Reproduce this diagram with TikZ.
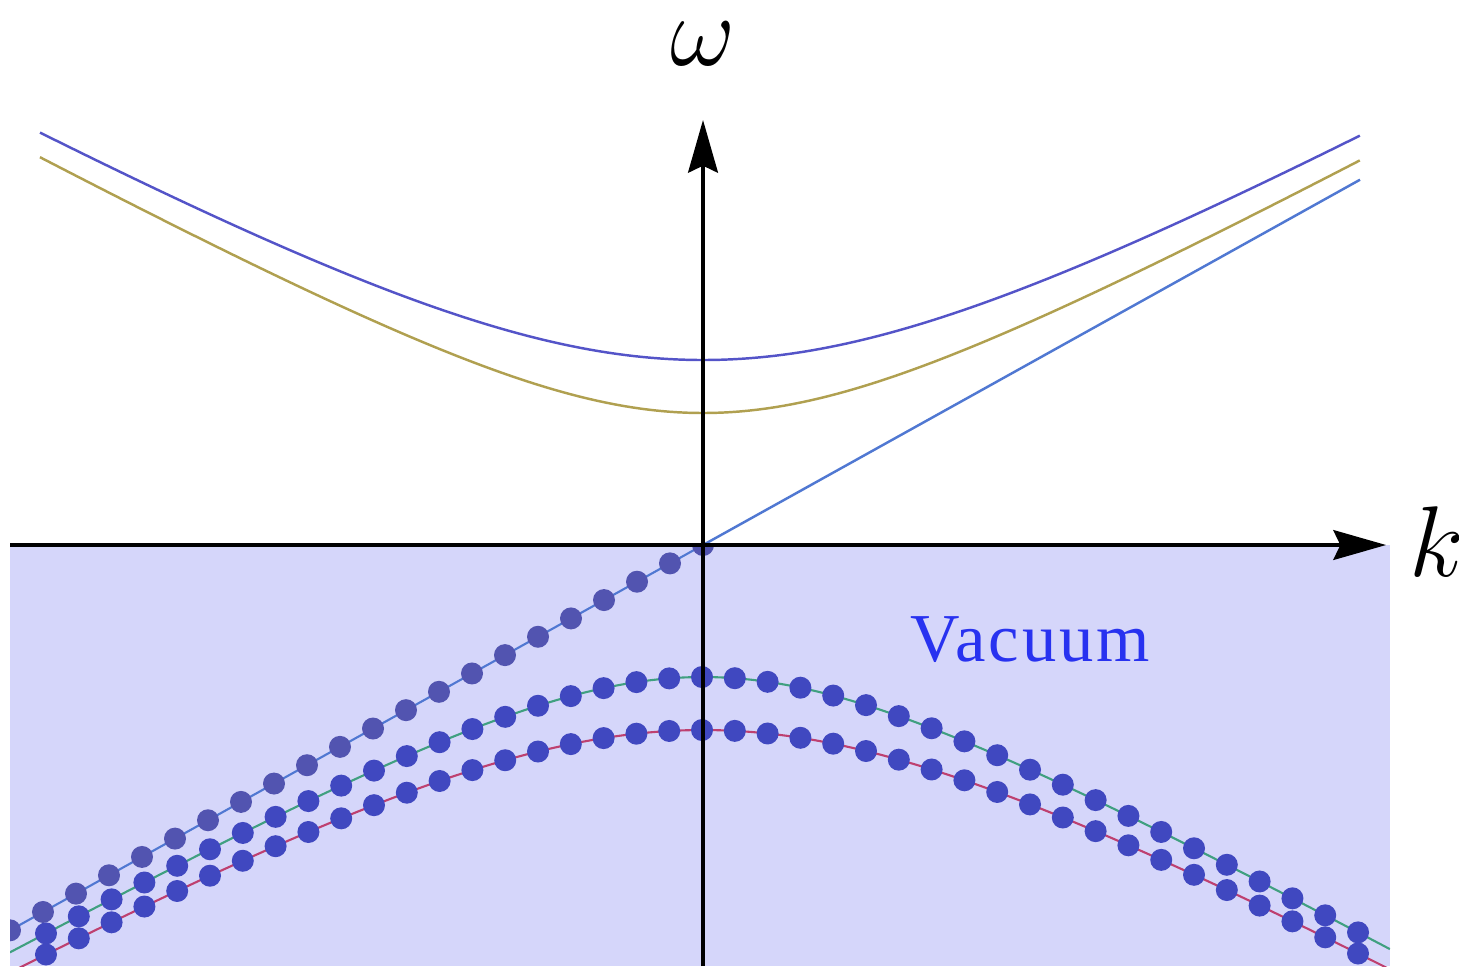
\documentclass[tikz,border=0pt]{standalone}
\usepackage{fontspec}
\newfontfamily\vacfont[LetterSpace=4.5]{Liberation Serif}
\usetikzlibrary{arrows.meta}
\definecolor{vacfill}{RGB}{213,214,250}
\definecolor{bandblue}{RGB}{84,84,200}
\definecolor{bandolive}{RGB}{176,160,80}
\definecolor{lightline}{RGB}{80,120,210}
\definecolor{dotcurve}{RGB}{64,72,192}
\definecolor{dotline}{RGB}{82,84,176}
\definecolor{lowgreen}{RGB}{64,160,128}
\definecolor{lowred}{RGB}{190,64,112}
\definecolor{vactext}{RGB}{40,50,240}
\tikzset{
  axisline/.style={line width=0.9pt,-{Stealth[length=15pt,width=8.5pt,inset=2pt]}},
  upcurve/.style={line width=0.7pt},
  lowcurve/.style={line width=0.6pt},
  dotc/.style={fill=dotcurve},
  dotl/.style={fill=dotline},
  biglabel/.style={inner sep=0pt,font=\Huge,scale=1.15},
}
\begin{document}
\begin{tikzpicture}[x=1cm,y=-1cm]
\useasboundingbox (0,0) rectangle (14.59,9.66);
\coordinate (O) at (7.03,5.45);
\coordinate (xL) at (0.10,5.45);
\coordinate (xR) at (13.86,5.45);
\coordinate (yB) at (7.03,9.66);
\coordinate (yT) at (7.03,1.20);
\coordinate (lightEnd) at (13.60,1.797);
\coordinate (lowEnd) at (0.00,9.359);
\fill[vacfill] (0.10,5.45) rectangle (13.90,9.66);
% upper bands
\draw[upcurve,bandblue] plot[domain=0.40:13.60,samples=150]
  (\x,{5.45-sqrt(1.85*1.85+(0.556*(\x-7.03))^2)});
\draw[upcurve,bandolive] plot[domain=0.40:13.60,samples=150]
  (\x,{5.45-sqrt(1.32*1.32+(0.55*(\x-7.03))^2)});
\draw[upcurve,lightline] (O) -- (lightEnd);
% lower dotted bands
\begin{scope}
\clip (0.10,5.45) rectangle (13.90,9.66);
\draw[lowcurve,lightline] (O) -- (lowEnd);
\draw[lowcurve,lowgreen] plot[domain=0.10:13.90,samples=150]
  (\x,{5.45+sqrt(1.32*1.32+(0.556*(\x-7.03))^2)});
\draw[lowcurve,lowred] plot[domain=0.10:13.90,samples=150]
  (\x,{5.45+sqrt(1.85*1.85+(0.556*(\x-7.03))^2)});
\foreach \i in {-21,...,0}{
  \pgfmathsetmacro\xx{7.03+0.33*\i}
  \fill[dotl] (\xx,{5.45+0.556*(7.03-\xx)}) circle (1.1mm);
}
\foreach \i in {-20,...,20}{
  \pgfmathsetmacro\xx{7.02+0.328*\i}
  \fill[dotc] (\xx,{5.45+sqrt(1.32*1.32+(0.556*(\xx-7.03))^2)}) circle (1.1mm);
  \fill[dotc] (\xx,{5.45+sqrt(1.85*1.85+(0.556*(\xx-7.03))^2)}) circle (1.1mm);
}
\end{scope}
% axes
\draw[axisline] (yB) -- (yT);
\draw[axisline] (xL) -- (xR);
% labels
\node[biglabel] (w) at (7.03,0.44) {$\omega$};
\node[biglabel] (k) at (14.37,5.42) {$k$};
\node[inner sep=0pt,text=vactext,font=\vacfont\fontsize{19.5}{23}\selectfont] (vac) at (10.30,6.40) {Vacuum};
\end{tikzpicture}
\end{document}
